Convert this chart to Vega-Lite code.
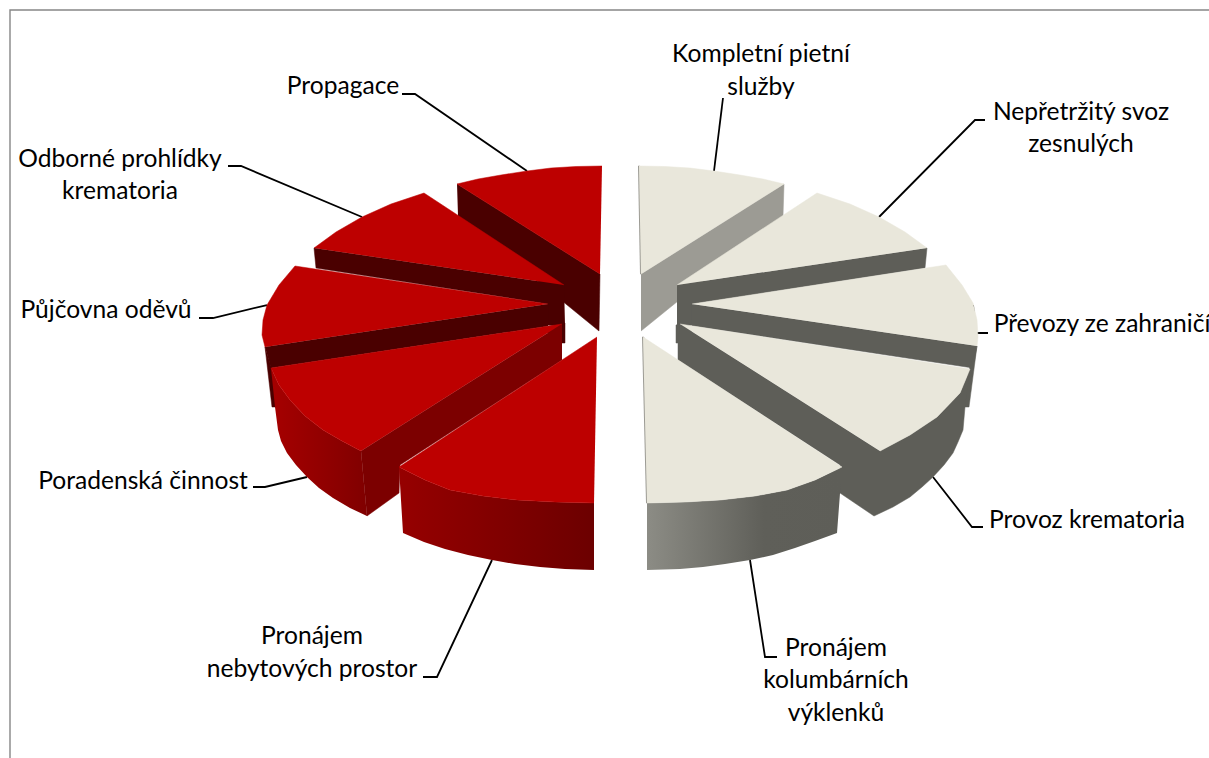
{"$schema":"https://vega.github.io/schema/vega-lite/v6.json","width":1209,"height":758,"padding":0,"autosize":"none","background":"white","view":{"stroke":null},
"config":{"axis":{"disable":true}},
"datasets":{
"frame":[{"x":10,"y":758},{"x":10,"y":10},{"x":1209,"y":10}],
"leaders":[
{"to":"Propagace","x":402,"y":94},{"to":"Propagace","x":415,"y":94},{"to":"Propagace","x":527,"y":171},
{"to":"Odborné","x":228,"y":166},{"to":"Odborné","x":241,"y":166},{"to":"Odborné","x":362,"y":217},
{"to":"Půjčovna","x":199,"y":318},{"to":"Půjčovna","x":213,"y":318},{"to":"Půjčovna","x":267,"y":305},
{"to":"Poradenská","x":253,"y":487},{"to":"Poradenská","x":265,"y":487},{"to":"Poradenská","x":307,"y":477},
{"to":"Nebytové","x":423,"y":677},{"to":"Nebytové","x":437,"y":677},{"to":"Nebytové","x":492,"y":560},
{"to":"Kolumbární","x":750,"y":560},{"to":"Kolumbární","x":765,"y":657},{"to":"Kolumbární","x":777,"y":657},
{"to":"Provoz","x":933,"y":477},{"to":"Provoz","x":972,"y":527},{"to":"Provoz","x":983,"y":527},
{"to":"Převozy","x":973,"y":305},{"to":"Převozy","x":976,"y":333},{"to":"Převozy","x":988,"y":333},
{"to":"Nepřetržitý","x":879,"y":217},{"to":"Nepřetržitý","x":975,"y":120},{"to":"Nepřetržitý","x":985,"y":120},
{"to":"Kompletní","x":714,"y":171},{"to":"Kompletní","x":723,"y":98}],
"back":[
{"part":"K side","tone":"stone","x":641,"y":274},{"part":"K side","tone":"stone","x":784,"y":184},{"part":"K side","tone":"stone","x":783,"y":216},{"part":"K side","tone":"stone","x":641,"y":331},
{"part":"K edge","tone":"stone","x":638,"y":166},{"part":"K edge","tone":"stone","x":640,"y":166},{"part":"K edge","tone":"stone","x":642,"y":274},{"part":"K edge","tone":"stone","x":640,"y":274},
{"part":"K top","tone":"cream","x":639,"y":166},{"part":"K top","tone":"cream","x":665,"y":166.5},{"part":"K top","tone":"cream","x":690,"y":168},{"part":"K top","tone":"cream","x":714,"y":171},{"part":"K top","tone":"cream","x":740,"y":175},{"part":"K top","tone":"cream","x":763,"y":179},{"part":"K top","tone":"cream","x":784,"y":184},{"part":"K top","tone":"cream","x":641,"y":274},
{"part":"Pg side","tone":"dark","x":457,"y":184},{"part":"Pg side","tone":"dark","x":600,"y":274},{"part":"Pg side","tone":"dark","x":599,"y":331},{"part":"Pg side","tone":"dark","x":458,"y":216},
{"part":"Pg top","tone":"red","x":602,"y":166},{"part":"Pg top","tone":"red","x":576,"y":166.5},{"part":"Pg top","tone":"red","x":551,"y":168},{"part":"Pg top","tone":"red","x":527,"y":171},{"part":"Pg top","tone":"red","x":501,"y":175},{"part":"Pg top","tone":"red","x":478,"y":179},{"part":"Pg top","tone":"red","x":457,"y":184},{"part":"Pg top","tone":"red","x":600,"y":274},
{"part":"N side","tone":"shade","x":677,"y":285},{"part":"N side","tone":"shade","x":927,"y":248},{"part":"N side","tone":"shade","x":925,"y":268},{"part":"N side","tone":"shade","x":692,"y":304},{"part":"N side","tone":"shade","x":692,"y":325},{"part":"N side","tone":"shade","x":677,"y":325},
{"part":"N top","tone":"cream","x":677,"y":285},{"part":"N top","tone":"cream","x":817,"y":193},{"part":"N top","tone":"cream","x":850,"y":204},{"part":"N top","tone":"cream","x":879,"y":217},{"part":"N top","tone":"cream","x":905,"y":232},{"part":"N top","tone":"cream","x":927,"y":248},
{"part":"O side","tone":"dark","x":564,"y":285},{"part":"O side","tone":"dark","x":314,"y":248},{"part":"O side","tone":"dark","x":316,"y":268},{"part":"O side","tone":"dark","x":548,"y":304},{"part":"O side","tone":"dark","x":548,"y":325},{"part":"O side","tone":"dark","x":565,"y":325},
{"part":"O top","tone":"red","x":564,"y":285},{"part":"O top","tone":"red","x":424,"y":193},{"part":"O top","tone":"red","x":391,"y":204},{"part":"O top","tone":"red","x":362,"y":217},{"part":"O top","tone":"red","x":336,"y":232},{"part":"O top","tone":"red","x":314,"y":248},
{"part":"P side","tone":"shade","x":692,"y":304},{"part":"P side","tone":"shade","x":977,"y":346},{"part":"P side","tone":"shade","x":973,"y":368},{"part":"P side","tone":"shade","x":680,"y":324},{"part":"P side","tone":"shade","x":676,"y":325},{"part":"P side","tone":"shade","x":676,"y":343},{"part":"P side","tone":"shade","x":692,"y":343},
{"part":"P wall","tone":"shade","x":977,"y":346},{"part":"P wall","tone":"shade","x":969,"y":407},{"part":"P wall","tone":"shade","x":960,"y":407},{"part":"P wall","tone":"shade","x":970,"y":366},
{"part":"P top","tone":"cream","x":692,"y":304},{"part":"P top","tone":"cream","x":946,"y":265},{"part":"P top","tone":"cream","x":962,"y":285},{"part":"P top","tone":"cream","x":973,"y":303},{"part":"P top","tone":"cream","x":977,"y":320},{"part":"P top","tone":"cream","x":978,"y":337},{"part":"P top","tone":"cream","x":977,"y":346},
{"part":"U side","tone":"dark","x":548,"y":304},{"part":"U side","tone":"dark","x":265,"y":347},{"part":"U side","tone":"dark","x":271,"y":368},{"part":"U side","tone":"dark","x":562,"y":324},{"part":"U side","tone":"dark","x":565,"y":323},{"part":"U side","tone":"dark","x":565,"y":343},{"part":"U side","tone":"dark","x":548,"y":343},
{"part":"U wall","tone":"dark","x":265,"y":347},{"part":"U wall","tone":"dark","x":272,"y":407},{"part":"U wall","tone":"dark","x":280,"y":407},{"part":"U wall","tone":"dark","x":271,"y":366},
{"part":"U top","tone":"red","x":548,"y":304},{"part":"U top","tone":"red","x":295,"y":266},{"part":"U top","tone":"red","x":279,"y":285},{"part":"U top","tone":"red","x":267,"y":305},{"part":"U top","tone":"red","x":263,"y":320},{"part":"U top","tone":"red","x":262,"y":335},{"part":"U top","tone":"red","x":265,"y":347},
{"part":"R body","tone":"shade","x":680,"y":324},{"part":"R body","tone":"shade","x":880,"y":451},{"part":"R body","tone":"shade","x":910,"y":435},{"part":"R body","tone":"shade","x":937,"y":417},{"part":"R body","tone":"shade","x":960,"y":393},{"part":"R body","tone":"shade","x":970,"y":369},{"part":"R body","tone":"shade","x":965,"y":407},{"part":"R body","tone":"shade","x":963,"y":430},{"part":"R body","tone":"shade","x":958,"y":442},{"part":"R body","tone":"shade","x":953,"y":453},{"part":"R body","tone":"shade","x":944,"y":465},{"part":"R body","tone":"shade","x":933,"y":477},{"part":"R body","tone":"shade","x":922,"y":487},{"part":"R body","tone":"shade","x":910,"y":497},{"part":"R body","tone":"shade","x":893,"y":507},{"part":"R body","tone":"shade","x":874,"y":516},{"part":"R body","tone":"shade","x":840,"y":493},{"part":"R body","tone":"shade","x":840,"y":465},{"part":"R body","tone":"shade","x":678,"y":360},{"part":"R body","tone":"shade","x":678,"y":343},
{"part":"R top","tone":"cream","x":680,"y":324},{"part":"R top","tone":"cream","x":970,"y":369},{"part":"R top","tone":"cream","x":960,"y":393},{"part":"R top","tone":"cream","x":937,"y":417},{"part":"R top","tone":"cream","x":910,"y":435},{"part":"R top","tone":"cream","x":880,"y":451},
{"part":"D cut","tone":"maroon","x":562,"y":324},{"part":"D cut","tone":"maroon","x":361,"y":451},{"part":"D cut","tone":"maroon","x":367,"y":516},{"part":"D cut","tone":"maroon","x":399,"y":493},{"part":"D cut","tone":"maroon","x":400,"y":465},{"part":"D cut","tone":"maroon","x":562,"y":360}],
"dWall":[{"x":271,"y":368},{"x":279,"y":385},{"x":290,"y":400},{"x":305,"y":416},{"x":323,"y":430},{"x":342,"y":441},{"x":361,"y":451},{"x":367,"y":516},{"x":350,"y":508},{"x":333,"y":498},{"x":319,"y":488},{"x":307,"y":477},{"x":296,"y":465},{"x":287,"y":453},{"x":281,"y":441},{"x":278,"y":430},{"x":275,"y":407}],
"dTop":[{"part":"D top","tone":"red","x":562,"y":324},{"part":"D top","tone":"red","x":271,"y":368},{"part":"D top","tone":"red","x":279,"y":385},{"part":"D top","tone":"red","x":290,"y":400},{"part":"D top","tone":"red","x":305,"y":416},{"part":"D top","tone":"red","x":323,"y":430},{"part":"D top","tone":"red","x":342,"y":441},{"part":"D top","tone":"red","x":361,"y":451}],
"kWall":[{"x":647,"y":503},{"x":685,"y":502},{"x":720,"y":500},{"x":755,"y":496},{"x":787,"y":490},{"x":815,"y":480},{"x":842,"y":467},{"x":837,"y":533},{"x":815,"y":541},{"x":795,"y":548},{"x":773,"y":555},{"x":750,"y":560},{"x":725,"y":564},{"x":703,"y":567},{"x":680,"y":569},{"x":647,"y":570}],
"nWall":[{"x":399,"y":467},{"x":425,"y":480},{"x":450,"y":490},{"x":483,"y":496},{"x":517,"y":500},{"x":555,"y":502},{"x":594,"y":503},{"x":594,"y":570},{"x":565,"y":569},{"x":540,"y":567},{"x":515,"y":564},{"x":492,"y":560},{"x":468,"y":555},{"x":445,"y":549},{"x":424,"y":542},{"x":403,"y":533}],
"front":[
{"part":"K2 edge","tone":"stone","x":642,"y":337},{"part":"K2 edge","tone":"stone","x":644,"y":337},{"part":"K2 edge","tone":"stone","x":648,"y":503},{"part":"K2 edge","tone":"stone","x":646,"y":503},
{"part":"K2 top","tone":"cream","x":643,"y":337},{"part":"K2 top","tone":"cream","x":842,"y":467},{"part":"K2 top","tone":"cream","x":815,"y":480},{"part":"K2 top","tone":"cream","x":787,"y":490},{"part":"K2 top","tone":"cream","x":755,"y":496},{"part":"K2 top","tone":"cream","x":720,"y":500},{"part":"K2 top","tone":"cream","x":685,"y":502},{"part":"K2 top","tone":"cream","x":647,"y":503},
{"part":"N2 top","tone":"red","x":597,"y":337},{"part":"N2 top","tone":"red","x":399,"y":467},{"part":"N2 top","tone":"red","x":425,"y":480},{"part":"N2 top","tone":"red","x":450,"y":490},{"part":"N2 top","tone":"red","x":483,"y":496},{"part":"N2 top","tone":"red","x":517,"y":500},{"part":"N2 top","tone":"red","x":555,"y":502},{"part":"N2 top","tone":"red","x":594,"y":503}],
"labels":[
{"t":"Kompletní pietní","x":761,"y":55},{"t":"služby","x":761,"y":88},
{"t":"Nepřetržitý svoz","x":1081,"y":113},{"t":"zesnulých","x":1081,"y":145},
{"t":"Převozy ze zahraničí","x":1102,"y":325},
{"t":"Provoz krematoria","x":1087,"y":521},
{"t":"Pronájem","x":836,"y":649},{"t":"kolumbárních","x":836,"y":681},{"t":"výklenků","x":836,"y":714},
{"t":"Pronájem","x":312,"y":637},{"t":"nebytových prostor","x":312,"y":670},
{"t":"Poradenská činnost","x":143,"y":482},
{"t":"Půjčovna oděvů","x":106,"y":311},
{"t":"Odborné prohlídky","x":120,"y":160},{"t":"krematoria","x":120,"y":192},
{"t":"Propagace","x":343,"y":87}]
},
"encoding":{
"x":{"field":"x","type":"quantitative","scale":{"domain":[0,1209],"range":[0,1209],"nice":false,"zero":false},"axis":null},
"y":{"field":"y","type":"quantitative","scale":{"domain":[0,758],"range":[0,758],"nice":false,"zero":false},"axis":null}
},
"layer":[
{"data":{"name":"frame"},"mark":{"type":"line","stroke":"#868686","strokeWidth":1.4,"clip":true},"encoding":{"order":{"value":null}}},
{"data":{"name":"leaders"},"mark":{"type":"line","stroke":"#000000","strokeWidth":1.8},"encoding":{"detail":{"field":"to"},"order":{"value":null}}},
{"data":{"name":"back"},"mark":{"type":"line","strokeWidth":0.5},"encoding":{"detail":{"field":"part"},"order":{"value":null},
"fill":{"field":"tone","type":"nominal","legend":null,"scale":{"domain":["cream","stone","shade","red","maroon","dark"],"range":["#E9E7DB","#9C9B94","#5E5E58","#BD0000","#7C0000","#4A0000"]}},
"stroke":{"field":"tone","type":"nominal","legend":null,"scale":{"domain":["cream","stone","shade","red","maroon","dark"],"range":["#E9E7DB","#9C9B94","#5E5E58","#BD0000","#7C0000","#4A0000"]}}}},
{"data":{"name":"dWall"},"mark":{"type":"line","strokeWidth":0,"fill":{"gradient":"linear","x1":0,"y1":0,"x2":1,"y2":0,"stops":[{"offset":0,"color":"#A60000"},{"offset":1,"color":"#800000"}]}},"encoding":{"order":{"value":null}}},
{"data":{"name":"dTop"},"mark":{"type":"line","strokeWidth":0.5,"fill":"#BD0000","stroke":"#BD0000"},"encoding":{"order":{"value":null}}},
{"data":{"name":"kWall"},"mark":{"type":"line","strokeWidth":0,"fill":{"gradient":"linear","x1":0,"y1":0,"x2":1,"y2":0,"stops":[{"offset":0,"color":"#8C8C85"},{"offset":0.6,"color":"#5F5F59"},{"offset":1,"color":"#5E5E58"}]}},"encoding":{"order":{"value":null}}},
{"data":{"name":"nWall"},"mark":{"type":"line","strokeWidth":0,"fill":{"gradient":"linear","x1":0,"y1":0,"x2":1,"y2":0,"stops":[{"offset":0,"color":"#960000"},{"offset":1,"color":"#6C0000"}]}},"encoding":{"order":{"value":null}}},
{"data":{"name":"front"},"mark":{"type":"line","strokeWidth":0.5},"encoding":{"detail":{"field":"part"},"order":{"value":null},
"fill":{"field":"tone","type":"nominal","legend":null,"scale":{"domain":["cream","stone","red"],"range":["#E9E7DB","#9C9B94","#BD0000"]}},
"stroke":{"field":"tone","type":"nominal","legend":null,"scale":{"domain":["cream","stone","red"],"range":["#E9E7DB","#9C9B94","#BD0000"]}}}},
{"data":{"name":"labels"},"mark":{"type":"text","font":"Lato","fontSize":24.6,"color":"#000000","align":"center","baseline":"middle"},"encoding":{"text":{"field":"t","type":"nominal"}}}
],
"resolve":{"scale":{"fill":"independent","stroke":"independent"}}
}
